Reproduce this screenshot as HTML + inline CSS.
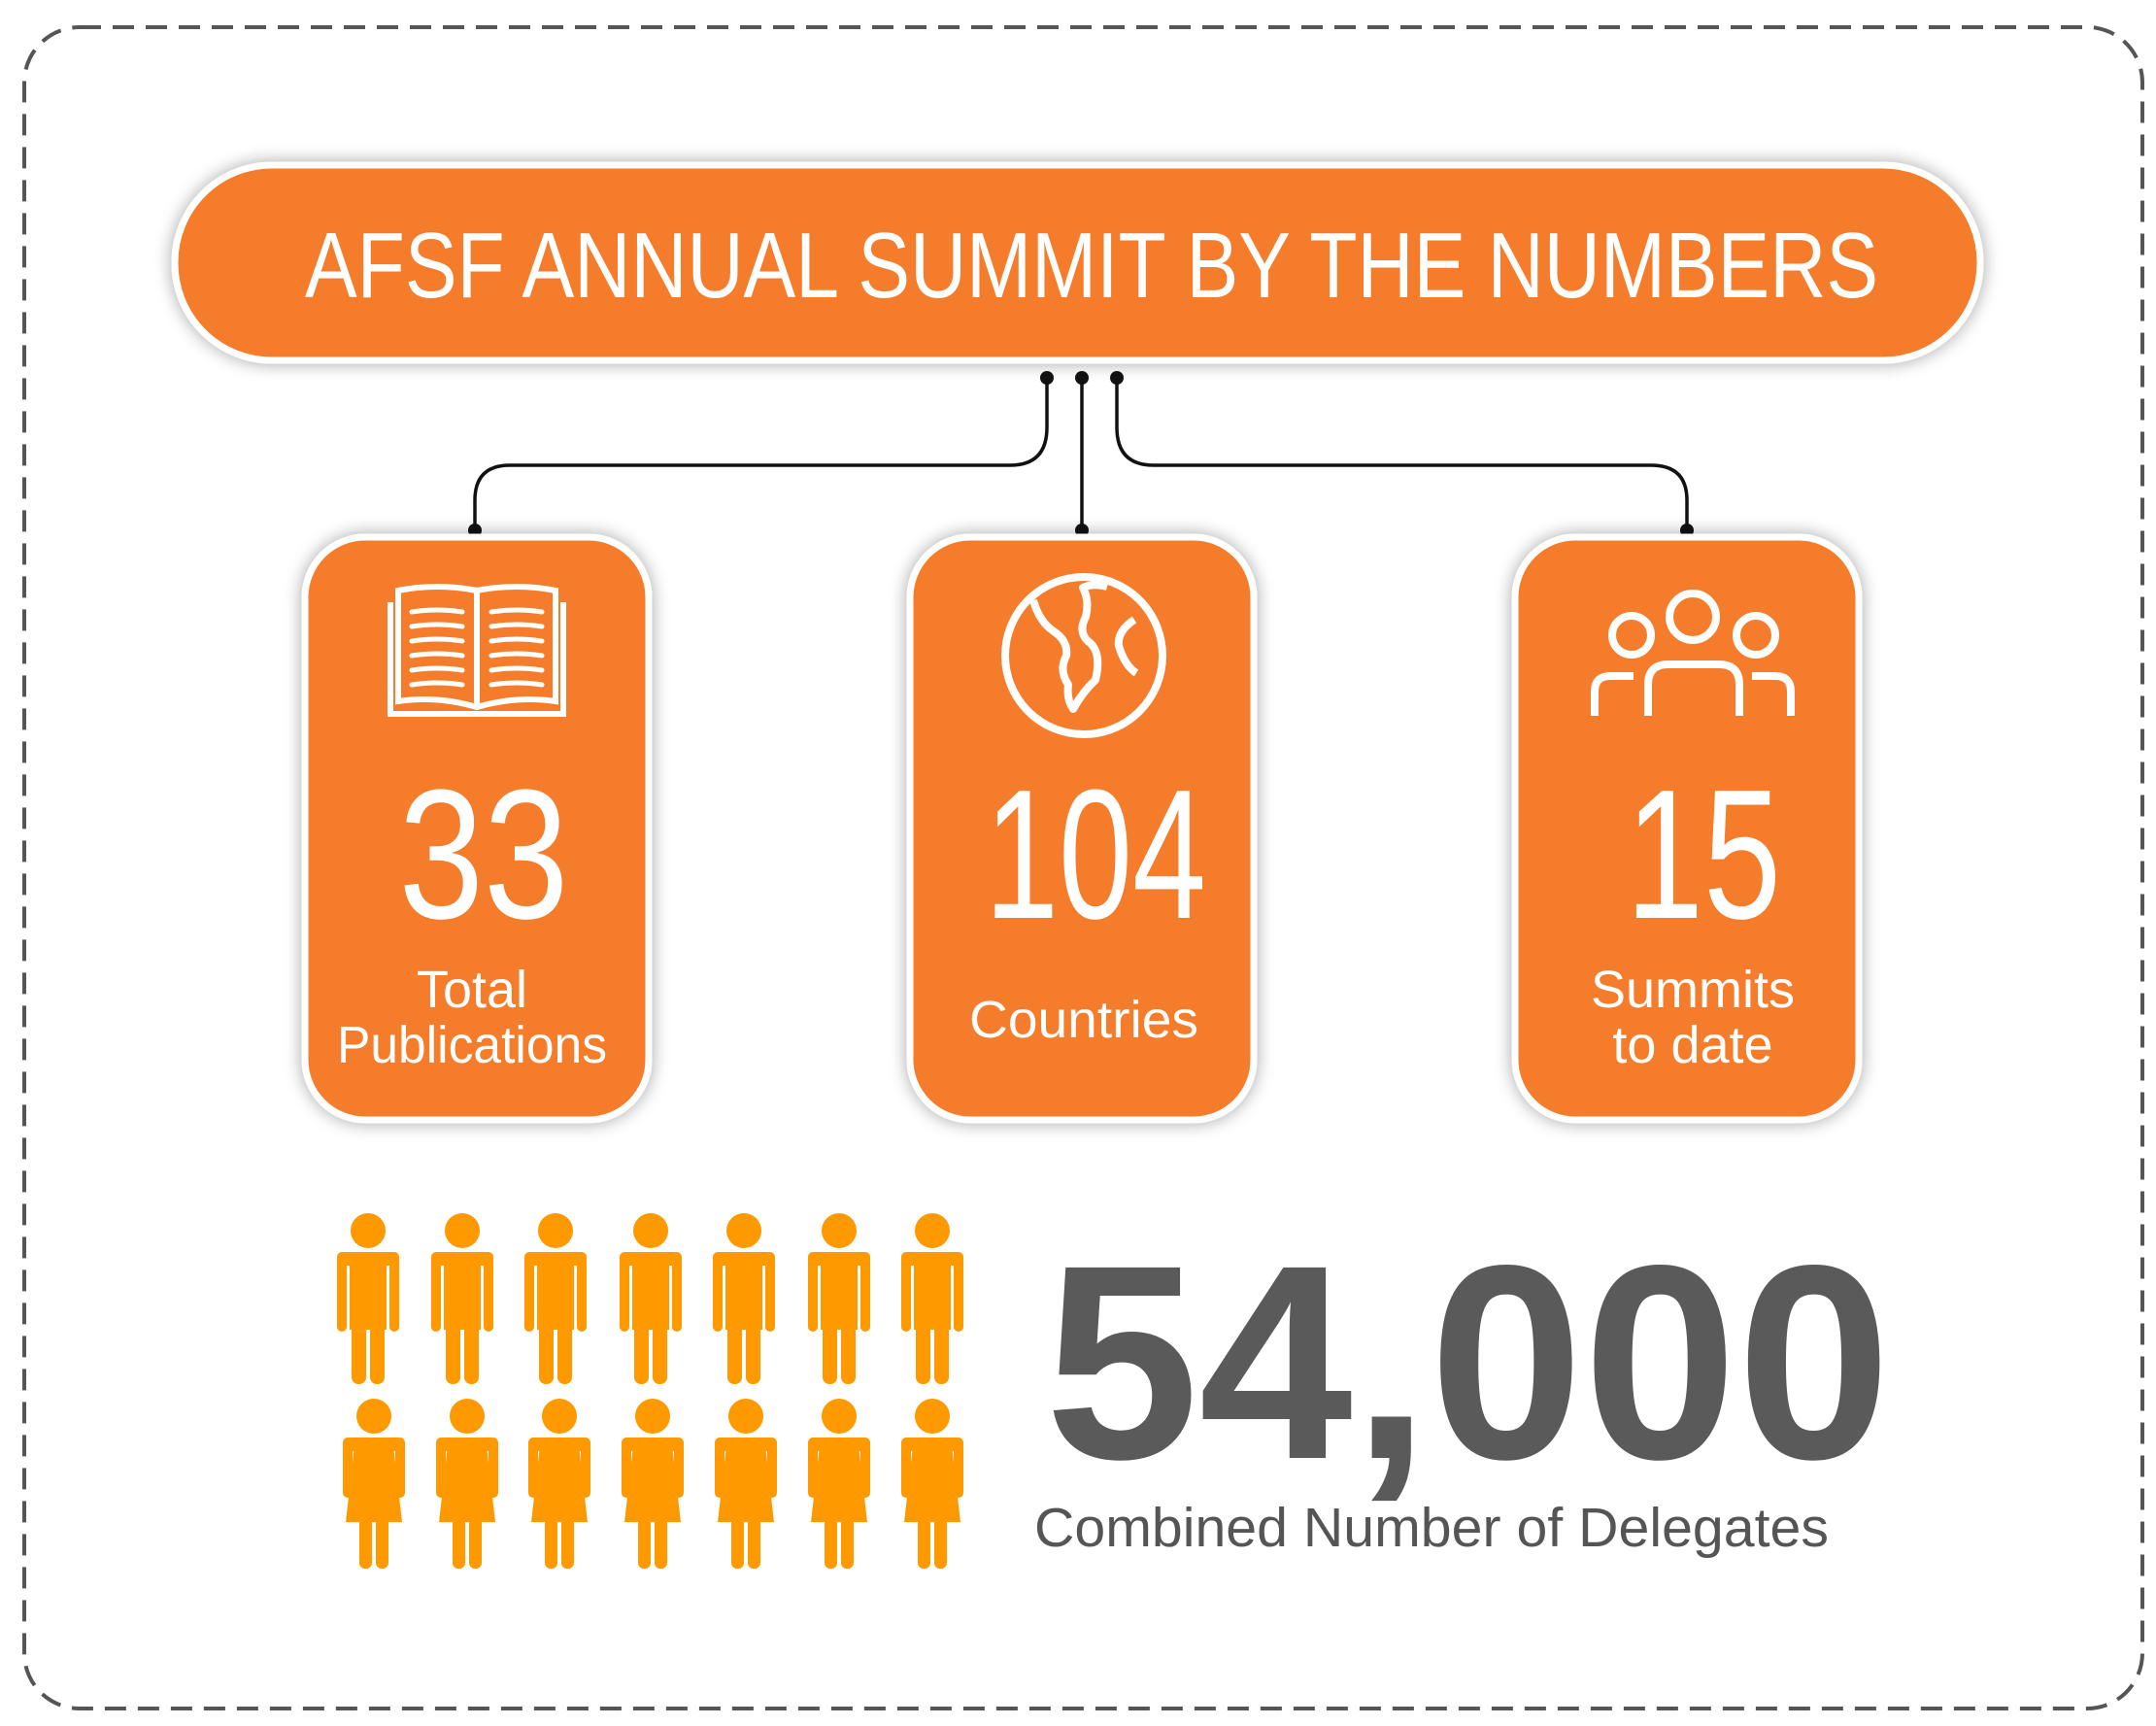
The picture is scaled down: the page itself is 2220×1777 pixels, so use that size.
<!DOCTYPE html>
<html><head><meta charset="utf-8"><style>
html,body{margin:0;padding:0;background:#fff;}
svg{display:block;}
</style></head><body>
<svg width="2220" height="1777" viewBox="0 0 2220 1777" xmlns="http://www.w3.org/2000/svg">
<defs>
<filter id="sh" x="-20%" y="-20%" width="140%" height="140%"><feGaussianBlur in="SourceAlpha" stdDeviation="9"/><feOffset dx="0" dy="0"/><feComponentTransfer><feFuncA type="linear" slope="0.35"/></feComponentTransfer><feMerge><feMergeNode/><feMergeNode in="SourceGraphic"/></feMerge></filter>
<g id="male" fill="#FF9900">
<circle cx="0" cy="18" r="18"/>
<rect x="-32" y="40" width="64" height="14" rx="7"/>
<rect x="-32" y="40" width="10" height="82" rx="5"/>
<rect x="22" y="40" width="10" height="82" rx="5"/>
<rect x="-19" y="40" width="38" height="80"/>
<rect x="-17" y="100" width="15" height="76" rx="7"/>
<rect x="2" y="100" width="15" height="76" rx="7"/>
</g>
<g id="female" fill="#FF9900">
<circle cx="0" cy="18" r="18"/>
<rect x="-32" y="40" width="64" height="14" rx="7"/>
<rect x="-32" y="40" width="10" height="62" rx="5"/>
<rect x="22" y="40" width="10" height="62" rx="5"/>
<polygon points="-19,40 19,40 29,127 -29,127"/>
<rect x="-15" y="120" width="13" height="55" rx="6"/>
<rect x="2" y="120" width="13" height="55" rx="6"/>
</g>
</defs>
<rect x="25" y="28" width="2181" height="1731" rx="57" fill="none" stroke="#555" stroke-width="4" stroke-dasharray="22 12"/>

<rect x="180" y="170" width="1859" height="201" rx="100" fill="#F47B2A" stroke="#fff" stroke-width="7" filter="url(#sh)"/>
<text x="1124" y="306" text-anchor="middle" font-family="Liberation Sans, sans-serif" font-size="96" fill="#fff" textLength="1620" lengthAdjust="spacingAndGlyphs">AFSF ANNUAL SUMMIT BY THE NUMBERS</text>

<g stroke="#111" stroke-width="3.5" fill="none">
<path d="M1078 389 V440 Q1078 479 1040 479 H525 Q489 479 489 515 V545"/>
<path d="M1114 389 V545"/>
<path d="M1150 389 V440 Q1150 479 1188 479 H1700 Q1737 479 1737 515 V545"/>
</g>
<g fill="#111">
<circle cx="1078" cy="389" r="7"/><circle cx="1114" cy="389" r="7"/><circle cx="1150" cy="389" r="7"/>
<circle cx="489" cy="546" r="7"/><circle cx="1114" cy="546" r="7"/><circle cx="1737" cy="546" r="7"/>
</g>

<g fill="#F47B2A" stroke="#fff" stroke-width="7" filter="url(#sh)">
<rect x="314" y="553" width="354" height="600" rx="62"/>
<rect x="937" y="553" width="354" height="600" rx="62"/>
<rect x="1560" y="553" width="354" height="600" rx="62"/>
</g>

<g fill="none" stroke="#fff" stroke-width="6">
<path d="M491 608 Q450 600 410 608 V722 Q450 716 491 728 Q532 716 572 722 V608 Q532 600 491 608 Z"/>
<path d="M491 608 V728"/>
<path d="M402 620 V735 H580 V620"/>
<g stroke-width="5" stroke-linecap="round">
<path d="M424 630 Q450 626 476 630 M424 645 Q450 641 476 645 M424 660 Q450 656 476 660 M424 675 Q450 671 476 675 M424 690 Q450 686 476 690 M424 705 Q450 701 476 705"/>
<path d="M506 630 Q532 626 558 630 M506 645 Q532 641 558 645 M506 660 Q532 656 558 660 M506 675 Q532 671 558 675 M506 690 Q532 686 558 690 M506 705 Q532 701 558 705"/>
</g>
</g>

<g fill="none" stroke="#fff" stroke-width="8" stroke-linejoin="round">
<circle cx="1116" cy="675" r="81"/>
<path d="M1064 618 Q1070 640 1085 650 Q1100 660 1098 675 Q1090 690 1100 705 Q1098 720 1105 730 Q1115 712 1128 700 Q1135 670 1120 660 Q1110 650 1118 635 Q1122 618 1115 605 Q1125 600 1140 604"/>
<path d="M1168 638 Q1150 650 1152 665 Q1158 685 1170 693"/>
</g>

<g fill="none" stroke="#fff" stroke-width="8">
<circle cx="1743" cy="635" r="24"/>
<circle cx="1680" cy="654" r="20"/>
<circle cx="1808" cy="654" r="20"/>
<path d="M1697 737 V705 Q1697 684 1718 684 H1770 Q1791 684 1791 705 V737"/>
<path d="M1642 737 V712 Q1642 696 1658 696 H1682"/>
<path d="M1844 737 V712 Q1844 696 1828 696 H1804"/>
</g>

<g font-family="Liberation Sans, sans-serif" fill="#fff" text-anchor="middle">
<text x="498" y="945" font-size="190" textLength="175" lengthAdjust="spacingAndGlyphs">33</text>
<text x="1128" y="945" font-size="190" textLength="228" lengthAdjust="spacingAndGlyphs">104</text>
<text x="1754" y="945" font-size="190" textLength="160" lengthAdjust="spacingAndGlyphs">15</text>
<text x="486" y="1037" font-size="54">Total</text>
<text x="486" y="1094" font-size="54" textLength="278" lengthAdjust="spacingAndGlyphs">Publications</text>
<text x="1116" y="1068" font-size="54" textLength="236" lengthAdjust="spacingAndGlyphs">Countries</text>
<text x="1743" y="1037" font-size="54">Summits</text>
<text x="1743" y="1094" font-size="54">to date</text>
</g>

<use href="#male" x="379" y="1249"/><use href="#male" x="476" y="1249"/><use href="#male" x="572" y="1249"/><use href="#male" x="670" y="1249"/><use href="#male" x="766" y="1249"/><use href="#male" x="864" y="1249"/><use href="#male" x="960" y="1249"/>
<use href="#female" x="385" y="1440"/><use href="#female" x="481" y="1440"/><use href="#female" x="576" y="1440"/><use href="#female" x="672" y="1440"/><use href="#female" x="768" y="1440"/><use href="#female" x="864" y="1440"/><use href="#female" x="960" y="1440"/>

<text x="1076" y="1501" font-family="Liberation Sans, sans-serif" font-weight="bold" font-size="285" fill="#5a5a5a" textLength="871" lengthAdjust="spacingAndGlyphs">54,000</text>
<text x="1065" y="1592" font-family="Liberation Sans, sans-serif" font-size="57" fill="#555" textLength="818" lengthAdjust="spacingAndGlyphs">Combined Number of Delegates</text>
</svg>
</body></html>
